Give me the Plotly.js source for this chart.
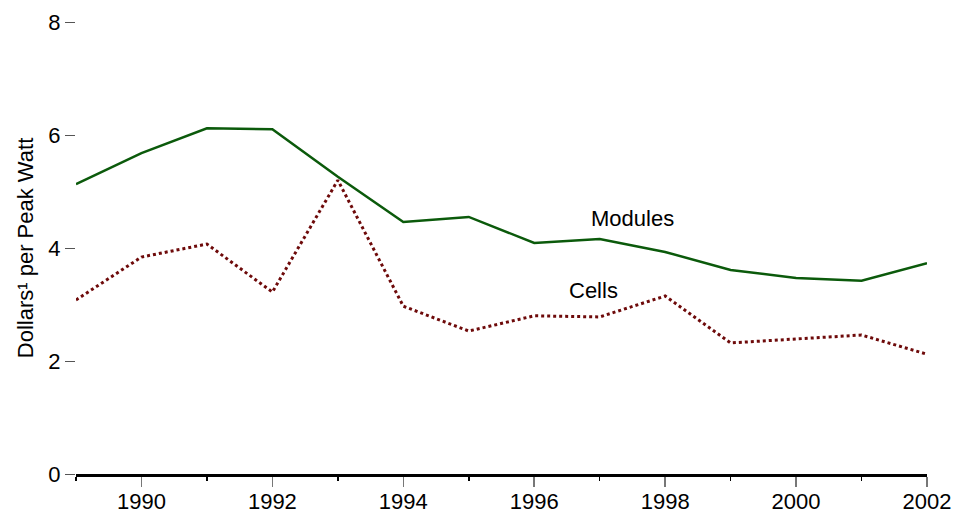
<!DOCTYPE html>
<html>
<head>
<meta charset="utf-8">
<script src="https://cdn.plot.ly/plotly-3.0.1.min.js"></script>
<style>html,body{margin:0;padding:0;background:#fff;}#chart{width:958px;height:515px;}</style>
</head>
<body>
<div id="chart"></div>
<script>
const years = [1989,1990,1991,1992,1993,1994,1995,1996,1997,1998,1999,2000,2001,2002];
const modules = [5.13,5.68,6.12,6.10,5.26,4.46,4.55,4.09,4.16,3.93,3.61,3.47,3.42,3.73];
const cells = [3.08,3.84,4.07,3.22,5.20,2.97,2.53,2.80,2.78,3.15,2.32,2.39,2.46,2.12];
const yTicks = [0,2,4,6,8];
const xTicks = [1990,1992,1994,1996,1998,2000,2002];

const font = {family: 'Liberation Sans, Arial, sans-serif', size: 22, color: '#000'};

const traces = [
  {x: years, y: modules, mode: 'lines', name: 'Modules',
   line: {color: '#0b5a0b', width: 2.5}},
  {x: years, y: cells, mode: 'lines', name: 'Cells',
   line: {color: '#6e0a0a', width: 3, dash: 'dot'}}
];

const layout = {
  width: 958, height: 515,
  margin: {l: 76, r: 31, t: 22, b: 41},
  paper_bgcolor: '#fff', plot_bgcolor: '#fff',
  showlegend: false,
  font: font,
  xaxis: {
    range: [1989, 2002],
    tickvals: xTicks, ticktext: xTicks.map(String),
    ticks: 'outside', ticklen: 10, tickwidth: 1.5, tickcolor: '#777',
    ticklabelstandoff: -4,
    showline: true, linecolor: '#000', linewidth: 3,
    showgrid: false, zeroline: false,
    minor: {dtick: 1, tick0: 1989, ticks: 'outside', ticklen: 4, tickwidth: 1.5, tickcolor: '#000', showgrid: false},
    tickfont: font
  },
  yaxis: {
    range: [0, 8],
    tickvals: yTicks, ticktext: yTicks.map(String),
    ticks: 'outside', ticklen: 10, tickwidth: 1, tickcolor: '#555',
    showline: false, showgrid: false, zeroline: false,
    tickfont: font,
    title: {text: 'Dollars¹ per Peak Watt', font: font, standoff: 8}
  },
  annotations: [
    {x: 1997.5, y: 4.53, xref: 'x', yref: 'y', text: 'Modules', showarrow: false, font: font},
    {x: 1996.9, y: 3.24, xref: 'x', yref: 'y', text: 'Cells', showarrow: false, font: font}
  ]
};

Plotly.newPlot('chart', traces, layout, {displayModeBar: false, staticPlot: true});
</script>
</body>
</html>
